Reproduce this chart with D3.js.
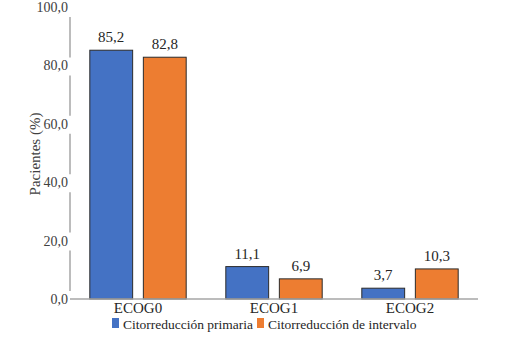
<!DOCTYPE html>
<html><head><meta charset="utf-8">
<script src="https://cdn.jsdelivr.net/npm/d3@7"></script>
<style>
body{margin:0;background:#fff}
svg{display:block}
svg text{font-family:"Liberation Serif","DejaVu Serif",serif !important;}
</style>
</head><body>
<script>
const categories = ["ECOG0", "ECOG1", "ECOG2"];
const seriesNames = ["Citorreducción primaria", "Citorreducción de intervalo"];
const primaria = [85.2, 11.1, 3.7];
const intervalo = [82.8, 6.9, 10.3];
const yTicks = [0, 20, 40, 60, 80, 100];
const colors = ["#4472C4", "#ED7D31"];

const W = 505, H = 339;
const svg = d3.select("body").append("svg").attr("width", W).attr("height", H);

const y = d3.scaleLinear().domain([0, 100]).range([299, 7]);
const x0 = d3.scaleBand().domain(categories).range([70, 478]).padding(0);
const x1 = d3.scaleBand().domain([0, 1]).range([0, x0.bandwidth()]).paddingInner(0.2).paddingOuter(0.37);

const fmt = v => d3.format(".1f")(v).replace(".", ",");

const axisColor = "#a6a6a6";
const segs = [];
for (let i = 0; i < yTicks.length - 1; i++) segs.push([yTicks[i], yTicks[i + 1]]);
svg.selectAll(".yseg").data(segs).enter().append("line")
  .attr("x1", 70).attr("x2", 70)
  .attr("y1", d => y(d[0]) - 8).attr("y2", d => y(d[1]) + 10)
  .attr("stroke", axisColor).attr("stroke-width", 1.5);

svg.selectAll(".ytl").data(yTicks).enter().append("text")
  .attr("x", 68).attr("y", d => y(d)).attr("dy", "0.35em")
  .attr("text-anchor", "end").attr("font-size", 14)
  .attr("fill", "#404040").text(fmt);

const data = categories.map((c, i) => ({ c, vals: [primaria[i], intervalo[i]] }));
const g = svg.selectAll(".grp").data(data).enter().append("g")
  .attr("transform", d => `translate(${x0(d.c)},0)`);
g.selectAll("rect").data(d => d.vals.map((v, k) => ({ v, k }))).enter().append("rect")
  .attr("x", d => x1(d.k)).attr("width", x1.bandwidth())
  .attr("y", d => y(d.v)).attr("height", d => y(0) - y(d.v))
  .attr("fill", d => colors[d.k]).attr("stroke", "#2b2b2b").attr("stroke-width", 1);
g.selectAll("text").data(d => d.vals.map((v, k) => ({ v, k }))).enter().append("text")
  .attr("x", d => x1(d.k) + x1.bandwidth() / 2).attr("y", d => y(d.v) - 8)
  .attr("text-anchor", "middle").attr("font-size", 15)
  .attr("fill", "#262626").text(d => fmt(d.v));

svg.append("line").attr("x1", 70).attr("x2", 478).attr("y1", 299).attr("y2", 299)
  .attr("stroke", axisColor).attr("stroke-width", 1.5);
svg.selectAll(".xl").data(categories).enter().append("text")
  .attr("x", d => x0(d) + x0.bandwidth() / 2).attr("y", 308).attr("dy", "0.35em")
  .attr("text-anchor", "middle").attr("font-size", 15)
  .attr("fill", "#262626").text(d => d);

svg.append("text").attr("transform", "translate(35,154) rotate(-90)")
  .attr("text-anchor", "middle").attr("dy", "0.35em").attr("font-size", 15)
  .attr("fill", "#404040").text("Pacientes (%)");

const legX = [112, 257];
seriesNames.forEach((s, i) => {
  svg.append("rect").attr("x", legX[i]).attr("y", 318).attr("width", 7).attr("height", 10).attr("fill", colors[i]);
  svg.append("text").attr("x", legX[i] + 11).attr("y", 324).attr("dy", "0.35em")
    .attr("font-size", 13.5).attr("fill", "#262626").text(s);
});
</script>
</body></html>
